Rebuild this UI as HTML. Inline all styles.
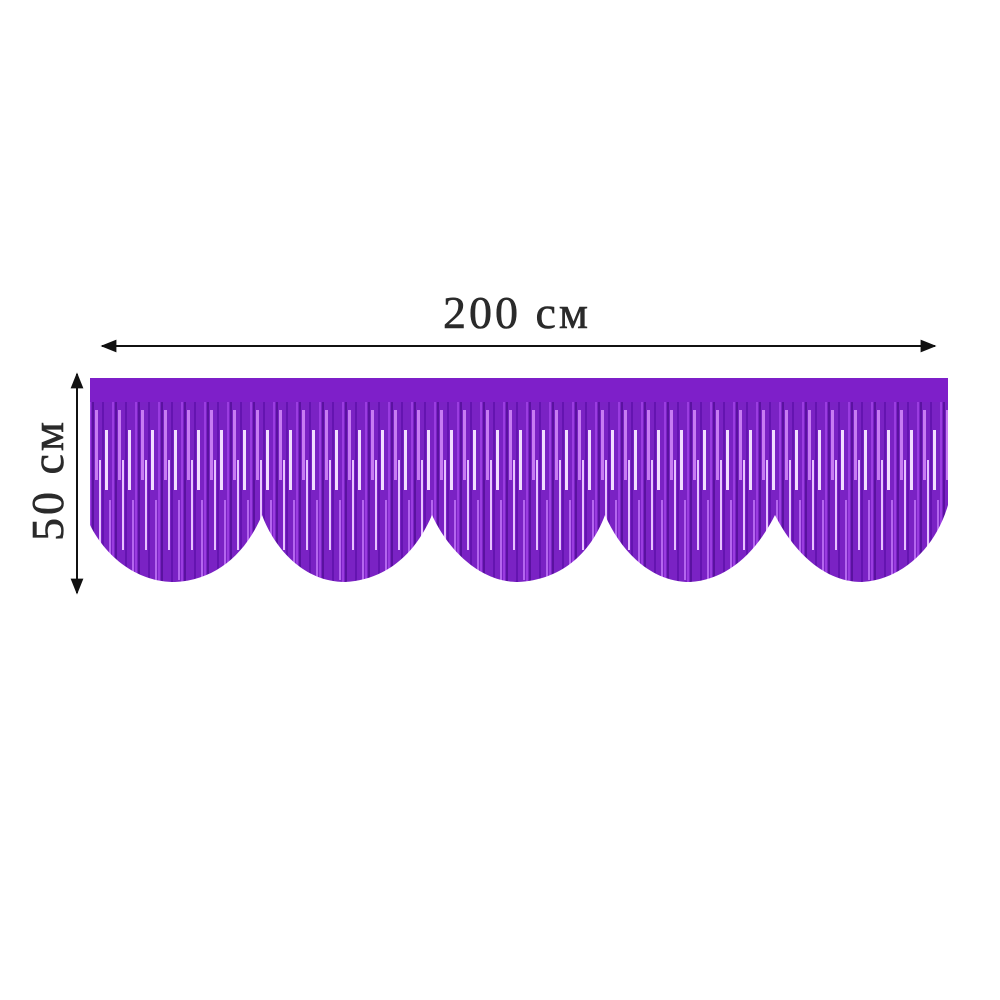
<!DOCTYPE html>
<html><head><meta charset="utf-8"><style>
html,body{margin:0;padding:0;background:#fff;}
svg{display:block}
</style></head><body>
<svg width="1000" height="1000" viewBox="0 0 1000 1000" xmlns="http://www.w3.org/2000/svg">
<defs>
<marker id="ah" viewBox="0 0 10 10" refX="9" refY="5" markerWidth="8" markerHeight="8" orient="auto-start-reverse"><path d="M0,1 L10,5 L0,9 z" fill="#111"/></marker>
<pattern id="fr" width="23" height="200" patternUnits="userSpaceOnUse">
<rect width="23" height="200" fill="#7a22c4"/>
<rect x="0" y="0" width="2" height="200" fill="#5a12a0"/>
<rect x="3" y="10" width="3" height="70" fill="#c77cf2"/>
<rect x="7" y="60" width="2" height="90" fill="#e7c2ff"/>
<rect x="10" y="0" width="2" height="200" fill="#6414b0"/>
<rect x="13" y="30" width="3" height="60" fill="#f2dcff"/>
<rect x="17" y="100" width="2" height="80" fill="#b466ee"/>
<rect x="20" y="0" width="2" height="200" fill="#9a3ce0"/>
</pattern>
<clipPath id="cp"><path d="M90,378 L948,378 L948,505 C935,550 900,580 862,582 C820,582 790,545 775,515 C755,555 725,580 690,582 C650,582 620,550 605,515 C590,555 560,580 518,582 C480,582 448,550 432,515 C415,555 385,580 345,582 C305,582 275,550 262,515 C245,555 215,580 175,582 C135,582 105,555 90,525 Z"/></clipPath>
</defs>
<text x="517" y="328" text-anchor="middle" font-family="Liberation Serif, serif" font-size="46" fill="#2a2a2a" letter-spacing="3" stroke="#2a2a2a" stroke-width="0.6">200 см</text>
<line x1="102" y1="346" x2="935" y2="346" stroke="#111" stroke-width="2" marker-start="url(#ah)" marker-end="url(#ah)"/>
<line x1="77" y1="374" x2="77" y2="593" stroke="#111" stroke-width="2" marker-start="url(#ah)" marker-end="url(#ah)"/>
<text transform="translate(63,480) rotate(-90)" text-anchor="middle" font-family="Liberation Serif, serif" font-size="46" fill="#2a2a2a" letter-spacing="3" stroke="#2a2a2a" stroke-width="0.6">50 см</text>
<g clip-path="url(#cp)">
<rect x="90" y="378" width="858" height="210" fill="url(#fr)"/>
<rect x="90" y="378" width="858" height="24" fill="#7e1fc9"/>
</g>
</svg>
</body></html>
